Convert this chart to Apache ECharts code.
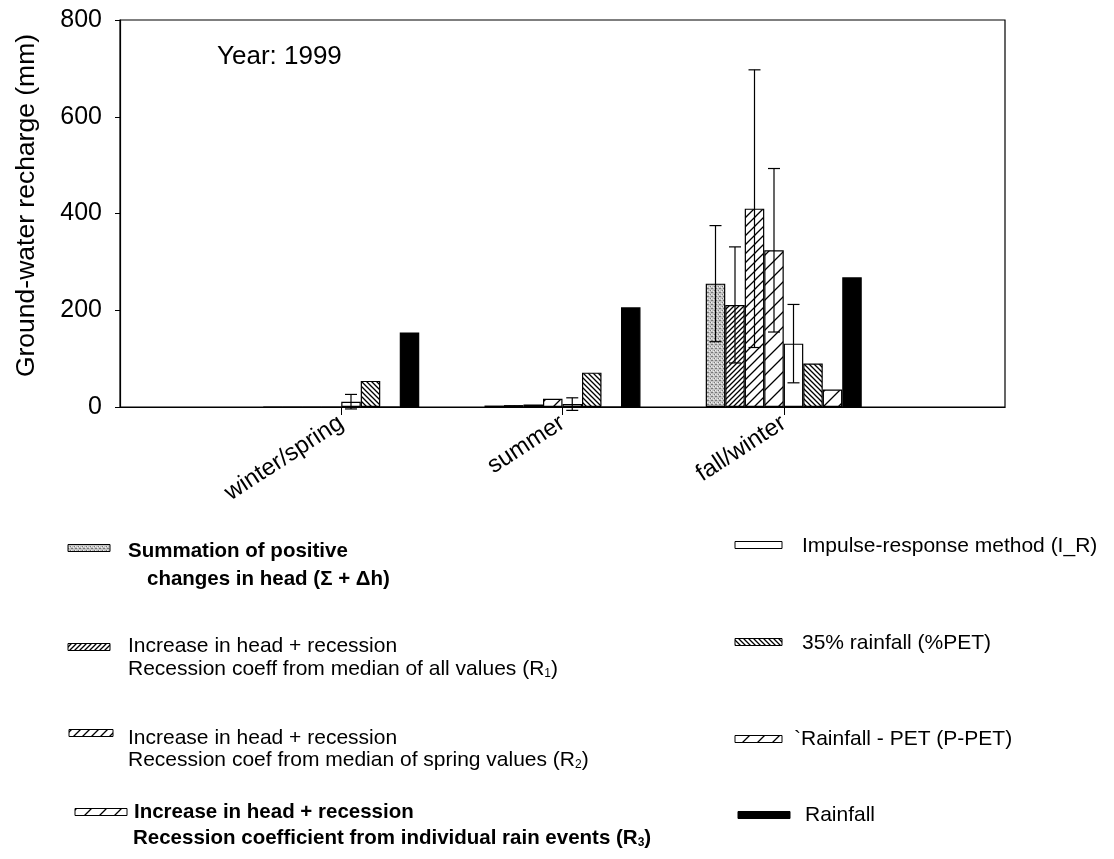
<!DOCTYPE html>
<html><head><meta charset="utf-8">
<script src="https://cdn.jsdelivr.net/npm/echarts@6/dist/echarts.min.js"></script>
<style>html,body{margin:0;padding:0;background:#fff}#c{width:1114px;height:859px}</style>
</head><body><div id="c"></div>
<script>
// ---- data ----
const categories = ['winter/spring', 'summer', 'fall/winter'];
const yTicks = [0, 200, 400, 600, 800];
const seriesNames = ['Σ+Δh', 'R1', 'R2', 'R3', 'I_R', '%PET', 'P-PET', 'Rainfall'];
const sumDh    = [0, 3, 255];
const sumDhErr = [null, null, 120];
const r1       = [0, 4, 211];
const r1Err    = [null, null, 120];
const r2       = [0, 5, 410];
const r2Err    = [null, null, 287];
const r3       = [0, 17, 324];
const r3Err    = [null, null, 169];
const iR       = [11, 6, 131];
const iRErr    = [15, 13, 81];
const pet35    = [54, 71, 90];
const pPet     = [0, 0, 36];
const rain     = [154, 206, 268];
const yearText = 'Year: 1999';
const yName = 'Ground-water recharge (mm)';

// ---- patterns ----
function hatch(size, dir, lw) {
  const c = document.createElement('canvas'); c.width = c.height = size;
  const g = c.getContext('2d'); g.fillStyle = '#fff'; g.fillRect(0, 0, size, size);
  g.strokeStyle = '#000'; g.lineWidth = lw; g.beginPath();
  if (dir > 0) {
    g.moveTo(0, size); g.lineTo(size, 0);
    g.moveTo(-size, size); g.lineTo(size, -size);
    g.moveTo(0, 2 * size); g.lineTo(2 * size, 0);
  } else {
    g.moveTo(0, 0); g.lineTo(size, size);
    g.moveTo(-size, 0); g.lineTo(size, 2 * size);
    g.moveTo(0, -size); g.lineTo(2 * size, size);
  }
  g.stroke();
  return c;
}
function stipple() {
  const c = document.createElement('canvas'); c.width = c.height = 4;
  const g = c.getContext('2d'); g.fillStyle = '#c4c4c4'; g.fillRect(0, 0, 4, 4);
  g.fillStyle = '#7a7a7a'; g.fillRect(0, 0, 1, 1); g.fillRect(2, 2, 1, 1); g.fillRect(3, 0, 1, 1);
  g.fillStyle = '#eeeeee'; g.fillRect(1, 3, 1, 1); g.fillRect(3, 2, 1, 1);
  return c;
}
const pat = c => ({ image: c, repeat: 'repeat' });
const fills = [
  pat(stipple()),
  pat(hatch(5, 1, 1.3)),
  pat(hatch(9, 1, 1.3)),
  pat(hatch(15, 1, 1.3)),
  '#ffffff',
  pat(hatch(5, -1, 1.3)),
  pat(hatch(15, 1, 1.3)),
  '#000000'
];

const values = [sumDh, r1, r2, r3, iR, pet35, pPet, rain];
const errs = [sumDhErr, r1Err, r2Err, r3Err, iRErr, null, null, null];
const cats = [''].concat(categories, ['']);
const pad = a => [null].concat(a, [null]);
const BW = 19.5;

const barSeries = values.map((v, k) => ({
  name: seriesNames[k], type: 'bar', data: pad(v), barWidth: BW, barGap: '0%',
  itemStyle: { color: fills[k], borderColor: '#000', borderWidth: 1.2 },
  animation: false
}));
const errData = [];
errs.forEach((e, k) => { if (e) e.forEach((d, i) => { if (d != null) errData.push([i + 1, values[k][i], d, k]); }); });

const FF = '"Liberation Sans", Arial, Helvetica, sans-serif';
const errSeries = {
  type: 'custom', z: 10, animation: false, silent: true,
  encode: { x: 0, y: 1 }, data: errData,
  renderItem: (params, api) => {
    const ci = api.value(0), v = api.value(1), e = api.value(2), k = api.value(3);
    const p1 = api.coord([ci, v + e]), p0 = api.coord([ci, v - e]);
    const x = p1[0] + (k - 3.5) * BW;
    const st = { stroke: '#000', lineWidth: 1.2 };
    return { type: 'group', children: [
      { type: 'line', shape: { x1: x, y1: p1[1], x2: x, y2: p0[1] }, style: st },
      { type: 'line', shape: { x1: x - 6, y1: p1[1], x2: x + 6, y2: p1[1] }, style: st },
      { type: 'line', shape: { x1: x - 6, y1: p0[1], x2: x + 6, y2: p0[1] }, style: st }
    ]};
  }
};

// ---- legend (drawn as graphic) ----
const legendItems = [
  { k: 0, ix: 68, iw: 42, iy: 548, bold: true,  lines: [['Summation of positive', 128, 551], ['changes in head (Σ + Δh)', 147, 579]] },
  { k: 1, ix: 68, iw: 42, iy: 647, bold: false, lines: [['Increase in head + recession', 128, 646], ['Recession coeff from median of all values (R{s|1})', 128, 669]] },
  { k: 2, ix: 69, iw: 44, iy: 733, bold: false, lines: [['Increase in head + recession', 128, 738], ['Recession coef from median of spring values (R{s|2})', 128, 760]] },
  { k: 3, ix: 75, iw: 52, iy: 812, bold: true,  lines: [['Increase in head + recession', 134, 812], ['Recession coefficient from individual rain events (R{s|3})', 133, 838]] },
  { k: 4, ix: 735, iw: 47, iy: 545, bold: false, lines: [['Impulse-response method (I_R)', 802, 546]] },
  { k: 5, ix: 735, iw: 47, iy: 642, bold: false, lines: [['35% rainfall (%PET)', 802, 643]] },
  { k: 6, ix: 735, iw: 47, iy: 739, bold: false, lines: [['`Rainfall - PET (P-PET)', 794, 739]] },
  { k: 7, ix: 738, iw: 52, iy: 815, bold: false, lines: [['Rainfall', 805, 815]] }
];
const graphics = [];
legendItems.forEach(it => {
  graphics.push({ type: 'rect', shape: { x: it.ix, y: it.iy - 3.5, width: it.iw, height: 7 },
    style: { fill: fills[it.k], stroke: '#000', lineWidth: 1 } });
  it.lines.forEach(ln => {
    graphics.push({ type: 'text', x: ln[1], y: ln[2],
      style: { text: ln[0], fontFamily: FF, fontSize: it.bold ? 20.5 : 21, fontWeight: it.bold ? 'bold' : 'normal', fill: '#000',
        verticalAlign: 'middle', align: 'left',
        rich: { s: { fontSize: 12, fontFamily: FF, fontWeight: it.bold ? 'bold' : 'normal', verticalAlign: 'bottom', padding: [10, 0, 0, 0] } } } });
  });
});
graphics.push({ type: 'text', x: 217, y: 57, style: { text: yearText, fontFamily: FF, fontSize: 26, fill: '#000', verticalAlign: 'middle' } });

const chart = echarts.init(document.getElementById('c'), null, { renderer: 'canvas' });
chart.setOption({
  backgroundColor: '#fff',
  animation: false,
  textStyle: { fontFamily: FF },
  grid: { left: 120, right: 109, top: 20, bottom: 452, show: true, borderColor: '#000', borderWidth: 1.2, backgroundColor: 'transparent' },
  legend: { show: false, data: seriesNames },
  xAxis: {
    type: 'category', data: cats, boundaryGap: false,
    axisLine: { lineStyle: { color: '#000', width: 1.2 } },
    axisTick: { length: 8, interval: (i, v) => v !== '', lineStyle: { color: '#000' } },
    axisLabel: { interval: 0, rotate: 33, fontSize: 24, color: '#000', fontFamily: FF, margin: 14 },
    splitLine: { show: false }
  },
  yAxis: {
    type: 'value', min: yTicks[0], max: yTicks[yTicks.length - 1], interval: yTicks[1] - yTicks[0],
    name: yName, nameLocation: 'middle', nameGap: 80,
    nameTextStyle: { fontSize: 26.5, color: '#000', fontFamily: FF, padding: [0, 0, 0, 16] },
    axisLine: { show: true, lineStyle: { color: '#000', width: 1.2 } },
    axisTick: { show: true, length: 5, lineStyle: { color: '#000' } },
    axisLabel: { fontSize: 25, color: '#000', fontFamily: FF, margin: 18 },
    splitLine: { show: false }
  },
  series: barSeries.concat([errSeries]),
  graphic: graphics
});
</script></body></html>
